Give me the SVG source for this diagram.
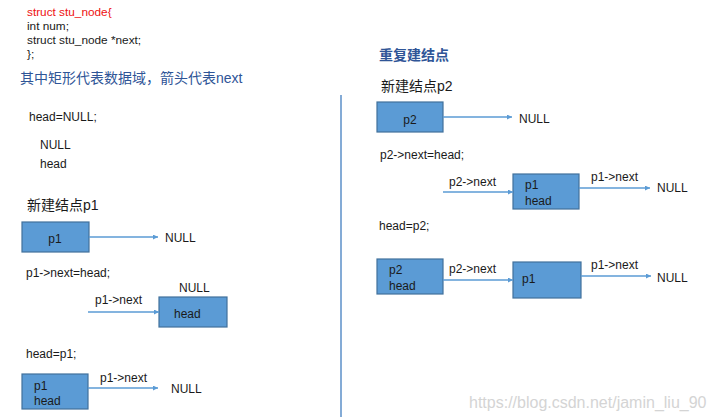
<svg xmlns="http://www.w3.org/2000/svg" width="714" height="419" viewBox="0 0 714 419">
<defs>
<style>
text{font-family:"Liberation Sans","Noto Sans CJK SC",sans-serif;fill:#1a1a1a;font-size:12px}
.code{font-size:11.8px}
.cn{font-size:14px}
.box{fill:#5b9bd5;stroke:#41719c;stroke-width:1.2}
.arr{stroke:#5b9bd5;stroke-width:1.3;fill:none;marker-end:url(#ah)}
.wm{fill:#d4d4d4;font-size:16px}
</style>
<marker id="ah" viewBox="0 0 6 6" refX="6" refY="3" markerWidth="5" markerHeight="5" markerUnits="userSpaceOnUse" orient="auto">
<path d="M0,0 L6,3 L0,6 Z" fill="#5b9bd5"/>
</marker>
</defs>

<g id="code">
<text class="code" x="27" y="16" style="fill:#ee1111">struct stu_node{</text>
<text class="code" x="27" y="30">int num;</text>
<text class="code" x="27" y="44">struct stu_node *next;</text>
<text class="code" x="27" y="58">};</text>
<text class="cn" x="20" y="83" style="fill:#2f5597">其中矩形代表数据域，箭头代表next</text>
</g>

<g id="divider"><line x1="341" y1="95" x2="341" y2="417" stroke="#5b8fc9" stroke-width="1.5"/></g>

<g id="labels">
<text x="29" y="121">head=NULL;</text>
<text x="40" y="149">NULL</text>
<text x="40" y="168">head</text>
<text class="cn" x="27" y="210">新建结点p1</text>
<text x="26" y="277">p1-&gt;next=head;</text>
<text x="26" y="358">head=p1;</text>
<text class="cn" x="379" y="60" style="fill:#2f5597;font-weight:bold">重复建结点</text>
<text class="cn" x="381" y="91">新建结点p2</text>
<text x="380" y="159">p2-&gt;next=head;</text>
<text x="379" y="230">head=p2;</text>
<text x="165" y="242">NULL</text>
<text x="179" y="292">NULL</text>
<text x="95" y="304">p1-&gt;next</text>
<text x="100" y="382">p1-&gt;next</text>
<text x="171" y="393">NULL</text>
<text x="519" y="123">NULL</text>
<text x="449" y="186">p2-&gt;next</text>
<text x="591" y="181">p1-&gt;next</text>
<text x="657" y="192">NULL</text>
<text x="449" y="273">p2-&gt;next</text>
<text x="591" y="269">p1-&gt;next</text>
<text x="657" y="282">NULL</text>
</g>

<g id="node-p1a"><rect class="box" x="22" y="222" width="67" height="30"/><text x="55" y="243" text-anchor="middle">p1</text></g>
<g id="node-head1"><rect class="box" x="159" y="297" width="68" height="30"/><text x="174" y="318">head</text></g>
<g id="node-p1head"><rect class="box" x="22" y="374" width="66" height="35"/><text x="34" y="390">p1</text><text x="34" y="405">head</text></g>
<g id="node-p2a"><rect class="box" x="377" y="102" width="66" height="30"/><text x="410" y="124" text-anchor="middle">p2</text></g>
<g id="node-p1head2"><rect class="box" x="513" y="174" width="66" height="35"/><text x="525" y="189">p1</text><text x="525" y="205">head</text></g>
<g id="node-p2head"><rect class="box" x="377" y="259" width="66" height="35"/><text x="389" y="274">p2</text><text x="389" y="290">head</text></g>
<g id="node-p1b"><rect class="box" x="513" y="262" width="68" height="36"/><text x="522" y="283">p1</text></g>

<g id="connectors">
<line class="arr" x1="89" y1="237" x2="158" y2="237"/>
<line class="arr" x1="88" y1="312" x2="159" y2="312"/>
<line class="arr" x1="88" y1="388" x2="158" y2="388"/>
<line class="arr" x1="443" y1="117" x2="512" y2="117"/>
<line class="arr" x1="443" y1="192" x2="513" y2="192"/>
<line class="arr" x1="579" y1="188" x2="650" y2="188"/>
<line class="arr" x1="443" y1="280" x2="513" y2="280"/>
<line class="arr" x1="581" y1="276" x2="651" y2="276"/>
</g>

<text class="wm" x="469" y="408">https://blog.csdn.net/jamin_liu_90</text>
</svg>
